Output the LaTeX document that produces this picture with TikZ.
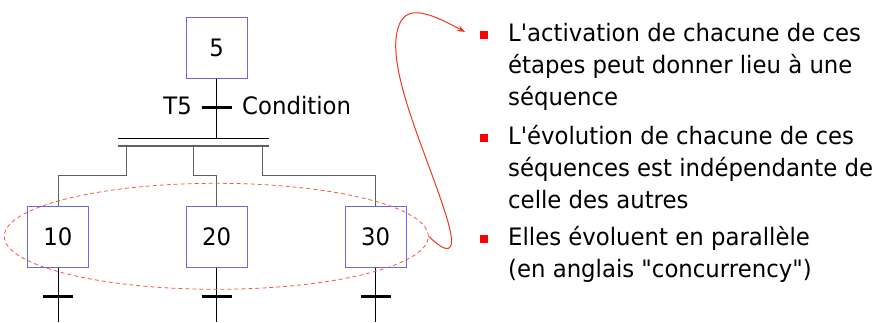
\documentclass[tikz,border=0pt]{standalone}
\usepackage{fontspec}
\setmainfont{DejaVu Sans}[FakeStretch=0.95, Ligatures=TeXOff]
\usetikzlibrary{arrows.meta, shapes.geometric}

\definecolor{stepblue}{RGB}{105,105,225}
\definecolor{linkgray}{RGB}{95,95,95}
\definecolor{loopred}{RGB}{240,55,25}
\definecolor{dashred}{RGB}{250,85,65}

\tikzset{
    etape/.style={draw=stepblue, line width=1pt, minimum size=61pt, inner sep=0pt,
                  font=\fontsize{24}{28}\selectfont},
    barre/.style={line width=3pt},
    lien/.style={line width=1pt},
    label/.style={inner sep=0pt, font=\fontsize{24}{28}\selectfont},
    puce/.style={fill=red, minimum size=8pt, inner sep=0pt},
    texte/.style={anchor=base west, align=left, inner sep=0pt,
                  font=\fontsize{24}{32}\selectfont},
}

\begin{document}
\begin{tikzpicture}[x=1pt, y=-1pt]
    \useasboundingbox (0,0) rectangle (883,322);

    % Step 5 and its transition
    \node[etape] (s5) at (216.7,47.7) {5};
    \coordinate (t5) at (216.7,107.7);
    \coordinate (div) at (216.7,138.3);
    \draw[lien] (s5) -- (div);
    \draw[barre] ([xshift=-15pt]t5) -- ([xshift=15pt]t5);
    \node[label, anchor=base east] (lt5) at (192,114) {T5};
    \node[label, anchor=base west] (lcond) at (242,114) {Condition};

    % Double bar of the divergence
    \coordinate (divL) at (118.3,138.3);
    \coordinate (divR) at (269.3,138.3);
    \draw[line width=1.2pt] (divL) -- (divR);
    \draw[line width=1.6pt, linkgray] ([yshift=-7.4pt]divL) -- ([yshift=-7.4pt]divR);

    % The three parallel steps
    \foreach \s/\xd/\xs in {10/126/58, 20/193.7/216.7, 30/262/375.7} {
        \node[etape] (s\s) at (\xs,236.7) {\s};
        \coordinate (d\s) at (\xd,145.7);
        \coordinate (t\s) at (\xs,296.7);
        \coordinate (e\s) at (\xs,322);
        \draw[lien, linkgray] (d\s) -- ++(0,30) -| (s\s.north);
        \draw[lien] (s\s) -- (e\s);
        \draw[barre] ([xshift=-15pt]t\s) -- ([xshift=15pt]t\s);
    }

    % Dashed ellipse round the steps and the loop to the text
    \node[ellipse, draw=dashred, line width=0.8pt, dash pattern=on 4pt off 3pt,
          minimum width=424pt, minimum height=106pt, inner sep=0pt] (grp) at (216.3,236.3) {};
    \coordinate (arr) at (465,32);
    \draw[loopred, line width=1pt, -{Stealth[length=8pt, width=6pt]}]
        (grp.east) .. controls (445,252) and (458,258) .. (448,222)
        .. controls (430,160) and (385,70) .. (398,28)
        .. controls (405,5) and (425,10) .. (arr);

    % Bullets (base anchor = last line)
    \node[puce] (b1) at (483.5,35) {};
    \node[puce] (b2) at (483.5,138) {};
    \node[puce] (b3) at (483.5,239) {};
    \node[texte] (p1) at (508,105) {L'activation de chacune de ces\\étapes peut donner lieu à une\\séquence};
    \node[texte] (p2) at (508,208) {L'évolution de chacune de ces\\séquences est indépendante de\\celle des autres};
    \node[texte] (p3) at (508,277) {Elles évoluent en parallèle\\(en anglais "concurrency")};
\end{tikzpicture}
\end{document}
